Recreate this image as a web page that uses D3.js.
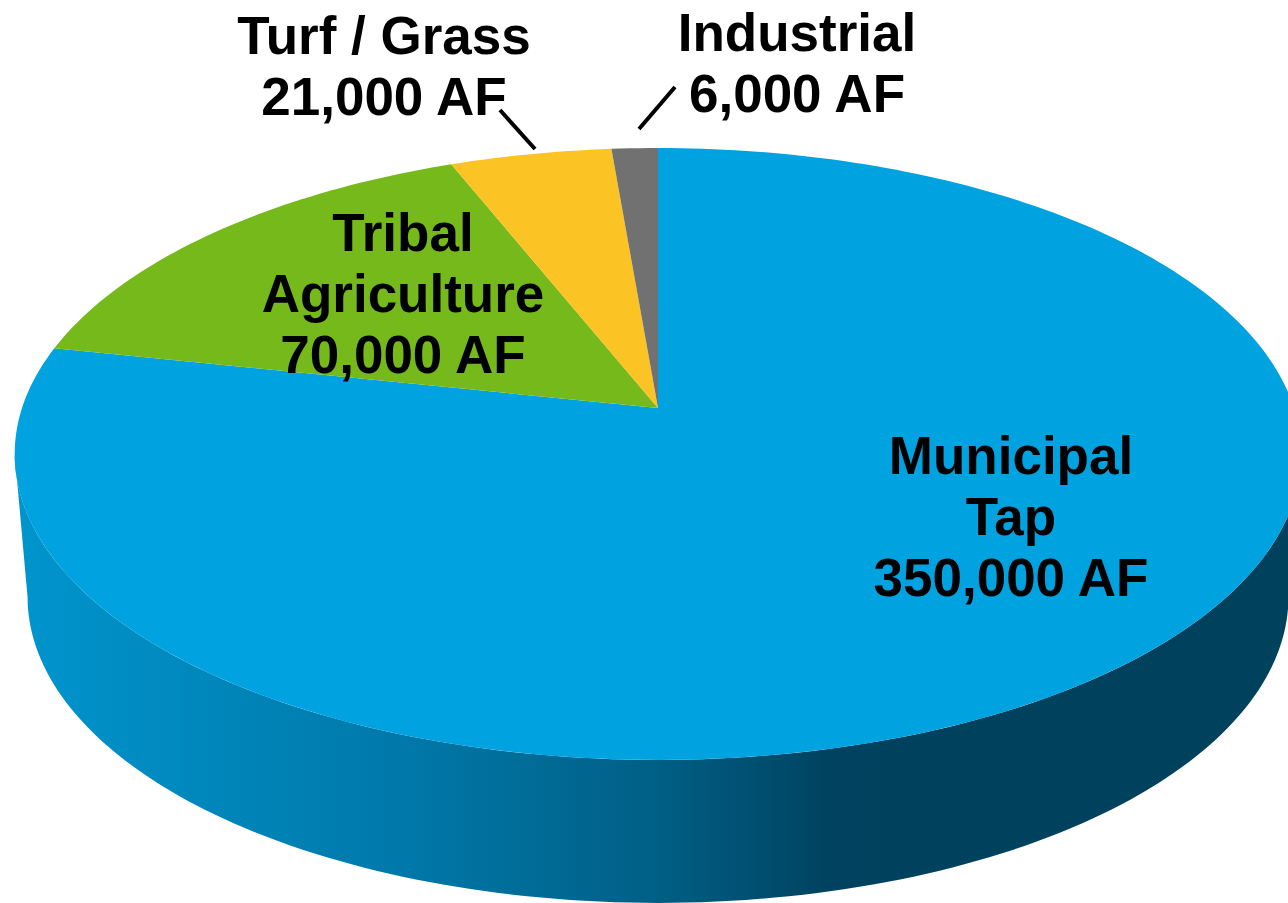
<!DOCTYPE html>
<html>
<head>
<meta charset="utf-8">
<script src="https://cdn.jsdelivr.net/npm/d3@7"></script>
<style>
  html, body { margin: 0; padding: 0; background: #fff; overflow: hidden; }
  text { font-family: "Liberation Sans", Arial, sans-serif; font-weight: bold; font-size: 53px; fill: #000; text-anchor: middle; }
</style>
</head>
<body>
<svg width="1288" height="903"></svg>
<script>
const categories = ['Municipal Tap', 'Tribal Agriculture', 'Turf / Grass', 'Industrial']
const values = [350000, 70000, 21000, 6000]
const colors = ['#00A2DF', '#76B91B', '#FCC325', '#717171']

const labelLines = [
  ['Municipal', 'Tap', '350,000 AF'],
  ['Tribal', 'Agriculture', '70,000 AF'],
  ['Turf / Grass', '21,000 AF'],
  ['Industrial', '6,000 AF']
]
const labelX = [1011, 403, 384, 797]
const labelY = [474, 251, 54, 51]
const lineGap = 61

// leader lines for the two small slices: [x1, y1, x2, y2]
const leaders = [
  [500, 110, 535, 149],
  [675, 87, 639, 129]
]

const sideStops = [
  [0, '#0094CC'], [0.3, '#0078A9'], [0.5, '#005F85'], [0.64, '#00425F'], [1, '#00425C']
]

const svg = d3.select('svg')

// the pie is a flat circle seen in perspective
const apexX = 658, apexY = 408
const radX = 636, radY = 299, tilt = -0.1503
const depth = 143, shrink = 0.98

function project(angle, lower) {
  const x = Math.sin(angle), y = -Math.cos(angle)
  const w = 1 + tilt * y
  return [
    apexX + (lower ? shrink : 1) * radX * x / w,
    apexY + (lower ? depth : 0) + radY * y / w
  ]
}

function sample(a0, a1, lower) {
  const n = Math.max(2, Math.ceil(Math.abs(a1 - a0) / 0.02))
  return d3.range(n + 1).map(i => project(a0 + (a1 - a0) * i / n, lower))
}

const pie = d3.pie().sort(null)
const arcs = pie(values)
const line = d3.line()

const defs = svg.append('defs')
defs.append('linearGradient')
    .attr('id', 'side')
    .attr('gradientUnits', 'userSpaceOnUse')
    .attr('x1', 28).attr('x2', 1288).attr('y1', 0).attr('y2', 0)
  .selectAll('stop')
    .data(sideStops)
  .enter().append('stop')
    .attr('offset', d => d[0])
    .attr('stop-color', d => d[1])

// side wall runs between the left and right extremes of the rim
const rimA = Math.acos(tilt), rimB = 2 * Math.PI - rimA
const wall = sample(rimA, rimB, false).concat(sample(rimB, rimA, true))
svg.append('path')
  .attr('d', line(wall) + 'Z')
  .attr('fill', 'url(#side)')

svg.append('g')
  .selectAll('path')
    .data(arcs)
  .enter().append('path')
    .attr('d', d => line([[apexX, apexY]].concat(sample(d.startAngle, d.endAngle, false))) + 'Z')
    .attr('fill', (d, i) => colors[i])

svg.append('g')
  .selectAll('line')
    .data(leaders)
  .enter().append('line')
    .attr('x1', d => d[0]).attr('y1', d => d[1])
    .attr('x2', d => d[2]).attr('y2', d => d[3])
    .attr('stroke', '#000')
    .attr('stroke-width', 4)

svg.append('g')
  .selectAll('text')
    .data(categories)
  .enter().append('text')
    .attr('y', (d, i) => labelY[i])
    .each(function(d, i) {
      d3.select(this).selectAll('tspan')
          .data(labelLines[i])
        .enter().append('tspan')
          .attr('x', labelX[i])
          .attr('dy', (t, j) => j ? lineGap : 0)
          .text(t => t)
    })
</script>
</body>
</html>
